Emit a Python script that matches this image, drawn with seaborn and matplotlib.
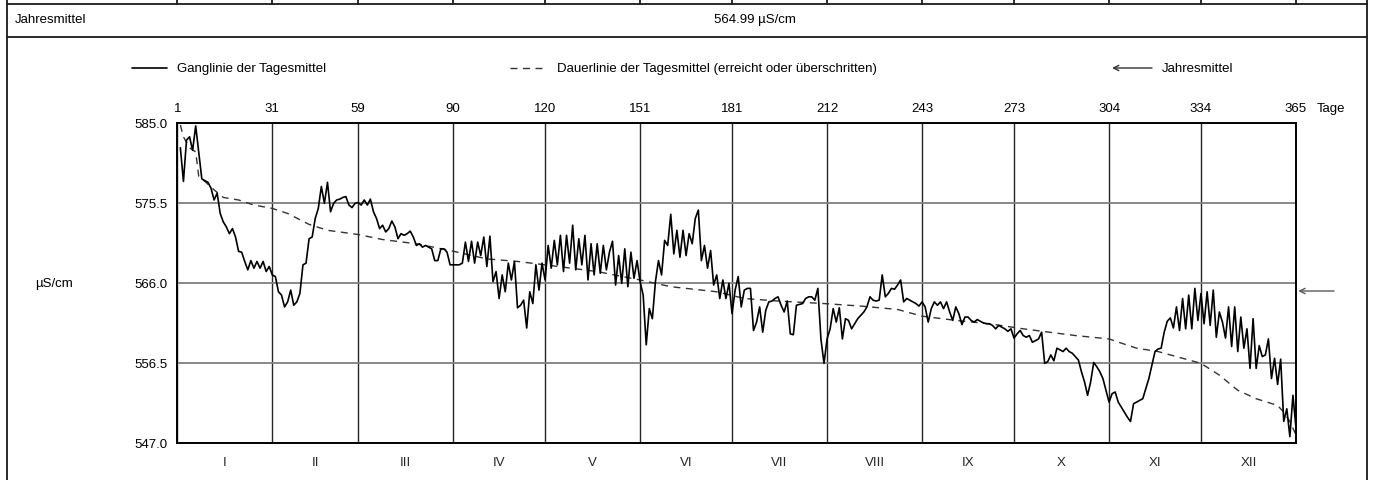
import numpy as np
import pandas as pd
import matplotlib
matplotlib.use('Agg')
import matplotlib.pyplot as plt
import seaborn as sns

# Tagesmittel (µS/cm), one list per month
JAN = [582.0, 578.0, 582.9, 583.3, 581.7, 584.6, 581.5, 578.3, 578.1, 577.9,
       577.2, 575.8, 576.6, 574.2, 573.2, 572.6, 571.8, 572.4, 571.4, 569.7,
       569.6, 568.5, 567.5, 568.6, 567.7, 568.5, 567.7, 568.5, 567.3, 567.9, 566.9]
FEB = [566.7, 564.9, 564.5, 563.1, 563.7, 565.1, 563.3, 563.7, 564.7,
       568.1, 568.3, 571.2, 571.4, 573.6, 574.8, 577.4, 575.4, 577.9, 574.4,
       575.4, 575.8, 575.9, 576.1, 576.2, 575.2, 574.9, 575.4, 575.5]
MAR = [575.2, 575.8, 575.2, 575.9, 574.4, 573.6, 572.4, 572.8, 572.0, 572.4,
       573.3, 572.6, 571.2, 571.8, 571.6, 571.8, 572.1, 571.4, 570.4, 570.6,
       570.2, 570.4, 570.2, 570.0, 568.6, 568.6, 570.0, 570.0, 569.6, 568.1, 568.1]
APR = [568.1, 568.1, 568.3, 570.8, 568.5, 570.9, 568.3, 570.8, 569.2, 571.4,
       567.9, 571.5, 566.1, 567.3, 564.1, 566.9, 564.9, 568.3, 566.3, 568.5,
       563.0, 563.3, 563.9, 560.6, 564.9, 563.5, 568.1, 565.1, 568.3, 566.3]
MAY = [570.4, 567.7, 571.0, 568.1, 571.6, 567.3, 571.6, 568.3, 572.8, 567.5,
       571.2, 568.1, 571.6, 566.3, 570.6, 566.9, 570.6, 567.1, 570.4, 567.5,
       569.6, 570.9, 565.7, 569.2, 565.9, 570.0, 565.5, 569.6, 566.5, 568.6, 566.1]
JUN = [564.5, 558.6, 562.9, 561.7, 566.1, 568.6, 566.9, 571.0, 570.4, 574.1,
       569.4, 572.2, 569.0, 572.2, 569.2, 571.8, 570.6, 573.6, 574.6, 568.6,
       570.4, 567.7, 569.8, 565.7, 566.9, 564.1, 566.3, 564.1, 565.9, 562.3]
JUL = [565.1, 566.7, 563.1, 565.1, 565.3, 565.3, 560.3, 561.3, 563.1, 560.1,
       562.7, 563.7, 563.8, 564.1, 564.3, 563.3, 562.5, 563.8, 559.9, 559.8,
       563.3, 563.4, 563.5, 564.1, 564.3, 564.3, 563.9, 565.3, 559.3, 556.4, 559.3]
AUG = [560.5, 562.9, 561.3, 563.0, 559.3, 561.7, 561.5, 560.5, 561.1, 561.7,
       562.1, 562.5, 563.1, 564.3, 563.9, 563.8, 563.9, 566.9, 564.3, 564.7,
       565.3, 565.2, 565.7, 566.3, 563.7, 564.1, 563.9, 563.7, 563.5, 563.2, 563.7]
SEP = [563.1, 561.3, 562.9, 563.7, 563.3, 563.7, 562.9, 563.7, 562.5, 561.5,
       563.1, 562.3, 561.0, 561.9, 561.9, 561.5, 561.3, 561.6, 561.4, 561.2,
       561.1, 561.1, 560.9, 560.5, 560.9, 560.7, 560.5, 560.2, 560.5, 559.4]
OCT = [559.9, 560.3, 559.7, 559.5, 559.7, 558.9, 559.1, 559.3, 560.1, 556.4,
       556.6, 557.4, 556.7, 558.2, 558.0, 557.8, 558.2, 557.8, 557.6, 557.2,
       556.8, 555.4, 554.2, 552.6, 554.2, 556.5, 556.0, 555.4, 554.6, 553.2, 551.8]
NOV = [552.8, 553.0, 551.8, 551.2, 550.6, 550.0, 549.5, 551.6, 551.8, 552.0,
       552.2, 553.4, 554.6, 556.2, 557.8, 558.1, 558.2, 560.1, 561.4, 561.8,
       560.6, 563.1, 560.3, 564.1, 560.5, 564.5, 560.5, 565.3, 561.5, 564.7]
DEC = [561.1, 564.9, 560.9, 565.1, 559.5, 562.5, 561.3, 559.4, 563.1, 558.4,
       563.1, 557.8, 561.9, 558.2, 560.5, 555.8, 561.7, 555.8, 558.5, 557.2,
       557.4, 559.3, 554.6, 557.0, 553.9, 556.9, 549.5, 551.0, 547.7, 552.6, 548.7]

# Dauerlinie (reached or exceeded), read at selected days
DL_DAYS = [1, 2, 4, 6, 7, 9, 12, 15, 20, 25, 31, 36, 43, 49, 59, 67, 78, 89, 101, 111,
           120, 137, 151, 161, 176, 185, 196, 211, 223, 235, 243, 254, 265, 276, 293,
           304, 308, 313, 320, 326, 334, 340, 346, 352, 359, 361, 363, 365]
DL_VALS = [584.7, 583.3, 582.0, 581.5, 578.6, 578.0, 577.0, 576.1, 575.8, 575.2,
           574.8, 574.2, 572.9, 572.2, 571.7, 571.1, 570.6, 569.8, 568.8, 568.5,
           568.1, 567.3, 566.3, 565.5, 564.9, 564.1, 563.8, 563.5, 563.2, 562.8,
           562.0, 561.5, 561.1, 560.5, 559.7, 559.3, 558.8, 558.2, 557.8, 557.2,
           556.4, 555.0, 553.2, 552.2, 551.4, 550.6, 549.5, 547.9]

JAHRESMITTEL = 564.99
MONTH_ENDS = [0, 31, 59, 90, 120, 151, 181, 212, 243, 273, 304, 334, 365]
TOP_LABELS = ['1', '31', '59', '90', '120', '151', '181', '212', '243', '273', '304', '334', '365']
MONTHS = ['I', 'II', 'III', 'IV', 'V', 'VI', 'VII', 'VIII', 'IX', 'X', 'XI', 'XII']
Y_TICKS = [547.0, 556.5, 566.0, 575.5, 585.0]

values = np.concatenate([JAN, FEB, MAR, APR, MAY, JUN, JUL, AUG, SEP, OCT, NOV, DEC])
df = pd.DataFrame({'Tag': np.arange(1, len(values) + 1), 'Wert': values})
dl = pd.DataFrame({'Tag': DL_DAYS, 'Wert': DL_VALS})

sns.set_style('white')
plt.rcParams['font.family'] = ['Liberation Sans', 'DejaVu Sans']
plt.rcParams['font.size'] = 9.5
plt.rcParams['text.color'] = 'black'

W, H = 1374, 481
fig = plt.figure(figsize=(W / 100, H / 100), dpi=100)

# overlay in pixel coords for the frame, header and legend
ov = fig.add_axes([0, 0, 1, 1])
ov.set_xlim(0, W)
ov.set_ylim(H, 0)
ov.axis('off')

AX_L, AX_R, AX_T, AX_B = 177.3, 1296.0, 123.5, 443.5
px_per_day = (AX_R - AX_L) / 365

frame = dict(color='0.1', lw=1.3)
ov.plot([7, 7], [0, H], **frame)
ov.plot([1367, 1367], [0, H], **frame)
ov.plot([7, 1367], [4.5, 4.5], **frame)
ov.plot([7, 1367], [38, 38], **frame)
for d in MONTH_ENDS:
    x = AX_L + d * px_per_day
    ov.plot([x, x], [0, 4.5], **frame)

ov.text(15, 20, 'Jahresmittel', ha='left', va='center')
ov.text(714, 20, f'{JAHRESMITTEL:.2f} µS/cm', ha='left', va='center')

# legend
ov.plot([132, 167], [69, 69], color='black', lw=1.2)
ov.text(177, 69, 'Ganglinie der Tagesmittel', ha='left', va='center')
ov.plot([510, 546], [69, 69], color='0.2', lw=1.0, linestyle=(0, (5, 4)))
ov.text(557, 69, 'Dauerlinie der Tagesmittel (erreicht oder überschritten)', ha='left', va='center')
ov.annotate('', xy=(1112, 69), xytext=(1152, 69),
            arrowprops=dict(arrowstyle='->', color='0.2', lw=1.0, shrinkA=0, shrinkB=0))
ov.text(1162, 69, 'Jahresmittel', ha='left', va='center')

ov.text(1317, 109, 'Tage', ha='left', va='center')
ov.text(35, 284, 'µS/cm', ha='left', va='center')

# main chart
ax = fig.add_axes([AX_L / W, 1 - AX_B / H, (AX_R - AX_L) / W, (AX_B - AX_T) / H])
ax.patch.set_alpha(0)
sns.lineplot(data=df, x='Tag', y='Wert', ax=ax, color='black', lw=1.2, zorder=3)
sns.lineplot(data=dl, x='Tag', y='Wert', ax=ax, color='0.2', lw=1.0,
             linestyle=(0, (5, 4)), zorder=2)

ax.set_xlim(0, 365)
ax.set_ylim(Y_TICKS[0], Y_TICKS[-1])
ax.set_xlabel('')
ax.set_ylabel('')

ax.set_xticks(MONTH_ENDS)
ax.set_xticklabels(TOP_LABELS)
ax.tick_params(axis='x', which='major', length=0, top=False, bottom=False,
               labeltop=True, labelbottom=False, pad=6)
mids = [(a + b) / 2 for a, b in zip(MONTH_ENDS[:-1], MONTH_ENDS[1:])]
ax.set_xticks(mids, minor=True)
ax.set_xticklabels(MONTHS, minor=True)
ax.tick_params(axis='x', which='minor', length=0, top=False, bottom=False,
               labeltop=False, labelbottom=True, pad=9.5)
ax.set_yticks(Y_TICKS)
ax.set_yticklabels([f'{v:.1f}' for v in Y_TICKS])
ax.tick_params(axis='y', length=0, pad=7)
ax.tick_params(labelsize=9.5, labelcolor='black')

ax.grid(True, axis='x', which='major', color='0.15', lw=1.0)
ax.grid(True, axis='y', which='major', color='0.5', lw=1.3)
ax.set_axisbelow(True)
for s in ax.spines.values():
    s.set_visible(True)
    s.set_color('black')
    s.set_linewidth(1.4)

ax.annotate('', xy=(1.002, JAHRESMITTEL), xycoords=('axes fraction', 'data'),
            xytext=(1.034, JAHRESMITTEL), textcoords=('axes fraction', 'data'),
            arrowprops=dict(arrowstyle='->', color='0.35', lw=1.0, shrinkA=0, shrinkB=0),
            annotation_clip=False)

fig.savefig('out.png', dpi=100)
